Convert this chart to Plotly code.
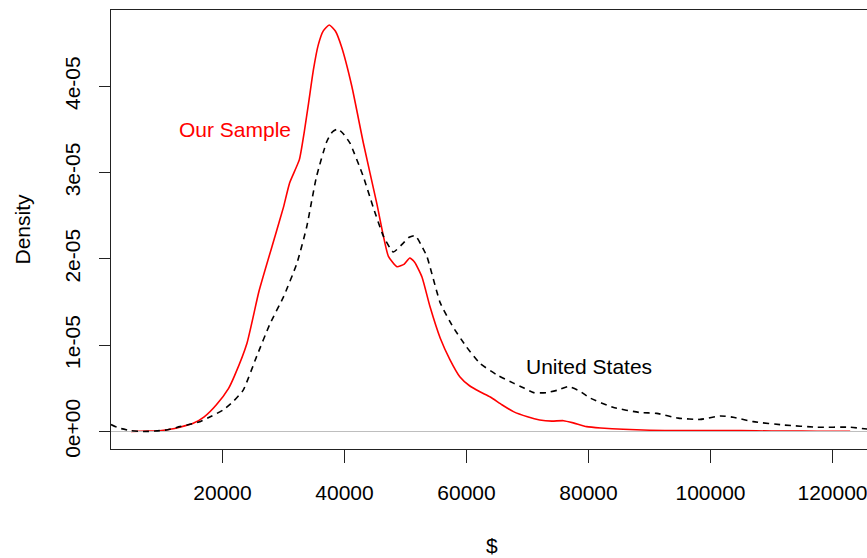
import plotly.graph_objects as go

# ---- data (density values in units of 1e-05) ----
sample_x = [5000, 8000, 10000, 11400, 13000, 15200, 17000, 19000, 21000, 22000,
            24000, 26000, 28600, 30000, 31000, 32600, 33400, 34100, 34900, 35700,
            36500, 37500, 38500, 39500, 41200, 43100, 45300, 47200, 48600, 49800,
            50700, 51500, 52700, 54000, 55700, 57300, 58900, 60500, 62200, 63900,
            65800, 67700, 70000, 72000, 74000, 75900, 77500, 79700, 82000, 85700,
            90000, 95000, 100000, 105000, 110000, 115000, 120000, 122900]
sample_y = [0, 0.005, 0.012, 0.025, 0.05, 0.095, 0.17, 0.31, 0.5, 0.65,
            1.02, 1.63, 2.26, 2.6, 2.88, 3.15, 3.47, 3.80, 4.19, 4.48,
            4.64, 4.71, 4.64, 4.46, 4.0, 3.34, 2.64, 2.03, 1.91, 1.94,
            2.01, 1.96, 1.79, 1.45, 1.08, 0.83, 0.635, 0.53, 0.46, 0.40,
            0.31, 0.23, 0.17, 0.133, 0.12, 0.125, 0.10, 0.056, 0.04, 0.025,
            0.015, 0.01, 0.012, 0.01, 0.005, 0.004, 0.003, 0.002]

us_x = [1721, 3000, 5000, 7000, 9000, 11000, 13000, 14500, 16300, 18000,
        20100, 21800, 23400, 25600, 27800, 30000, 32200, 33800, 35400, 37100,
        38000, 38900, 39800, 40900, 43100, 44700, 46400, 48000, 49600, 50600,
        51600, 52500, 53500, 55700, 57800, 60000, 62200, 65000, 67700, 69500,
        71000, 73100, 75000, 76700, 78500, 80200, 84000, 88400, 91200, 94700,
        98300, 101600, 103700, 107000, 112000, 117400, 122900, 126000]
us_y = [0.08, 0.04, 0.01, 0.0, 0.005, 0.02, 0.056, 0.08, 0.114, 0.17,
        0.25, 0.35, 0.48, 0.87, 1.25, 1.56, 1.95, 2.37, 2.95, 3.36,
        3.47, 3.505, 3.45, 3.34, 2.95, 2.6, 2.26, 2.08, 2.18, 2.25,
        2.27, 2.17, 2.03, 1.49, 1.21, 0.98, 0.79, 0.655, 0.56, 0.5,
        0.45, 0.45, 0.48, 0.52, 0.47, 0.39, 0.28, 0.22, 0.21, 0.155,
        0.14, 0.18, 0.165, 0.114, 0.075, 0.05, 0.049, 0.025]

x_ticks = [20000, 40000, 60000, 80000, 100000, 120000]
y_ticks = [0, 1e-05, 2e-05, 3e-05, 4e-05]
y_tick_labels = ["0e+00", "1e-05", "2e-05", "3e-05", "4e-05"]

x_range = [1721, 125656]
y_range = [-0.203e-05, 4.884e-05]

SCALE = 1e-05
FONT = "Liberation Sans, Arial, Helvetica, sans-serif"

fig = go.Figure()
fig.add_trace(go.Scatter(
    x=sample_x, y=[v * SCALE for v in sample_y], mode="lines",
    line=dict(color="#FF0000", width=1.6, shape="spline", smoothing=0.5),
    hoverinfo="skip", showlegend=False))
# zero line (drawn over the first curve, as R does)
fig.add_trace(go.Scatter(
    x=x_range, y=[0, 0], mode="lines",
    line=dict(color="#BEBEBE", width=1.2), hoverinfo="skip", showlegend=False))
fig.add_trace(go.Scatter(
    x=us_x, y=[v * SCALE for v in us_y], mode="lines",
    line=dict(color="#000000", width=1.6, dash="6px,5px", shape="spline", smoothing=0.5),
    hoverinfo="skip", showlegend=False))

fig.add_annotation(x=22000, y=3.5e-05, text="Our Sample", showarrow=False,
                   font=dict(family=FONT, size=21, color="#FF0000"),
                   xanchor="center", yanchor="middle")
fig.add_annotation(x=80000, y=0.75e-05, text="United States", showarrow=False,
                   font=dict(family=FONT, size=21, color="#000000"),
                   xanchor="center", yanchor="middle")

# axis titles
fig.add_annotation(xref="paper", yref="paper", x=(492 - 111) / 756, y=(449 - 545) / 439,
                   text="$", showarrow=False, xanchor="center", yanchor="middle",
                   font=dict(family=FONT, size=21, color="#000000"))
fig.add_annotation(xref="paper", yref="paper", x=(22 - 111) / 756, y=(449 - 229.5) / 439,
                   text="Density", showarrow=False, textangle=-90,
                   xanchor="center", yanchor="middle",
                   font=dict(family=FONT, size=21, color="#000000"))

fig.update_layout(
    width=867, height=558,
    margin=dict(l=111, r=0, t=10, b=109, pad=0),
    paper_bgcolor="white", plot_bgcolor="white",
    font=dict(family=FONT, size=21, color="#000000"),
    xaxis=dict(range=x_range, tickvals=x_ticks, ticktext=[str(v) for v in x_ticks],
               showgrid=False, zeroline=False, showline=True, linecolor="#222222",
               linewidth=1, mirror=True, ticks="outside", ticklen=13, tickwidth=1,
               tickcolor="#222222", ticklabelstandoff=12, ticklabeloverflow="allow",
               tickfont=dict(family=FONT, size=21, color="#000000")),
    yaxis=dict(range=y_range, tickvals=y_ticks, ticktext=y_tick_labels,
               showgrid=False, zeroline=False, showline=True, linecolor="#222222",
               linewidth=1, ticks="outside", ticklen=11, tickwidth=1,
               tickcolor="#222222", tickangle=-90, ticklabelstandoff=11,
               tickfont=dict(family=FONT, size=21, color="#000000")),
)

fig.write_html("out.html", config={"displayModeBar": False},
               post_script="document.body.style.margin='0';")
